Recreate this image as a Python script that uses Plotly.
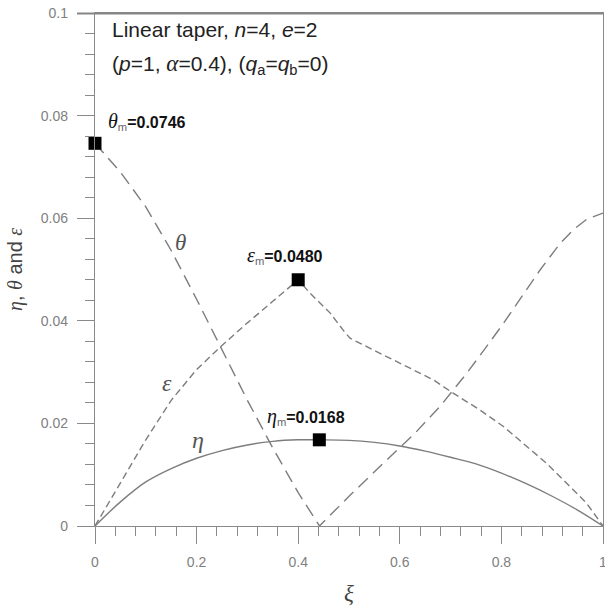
import plotly.graph_objects as go

# ---------------- data ----------------
eta_x = [0, 0.05, 0.1, 0.15, 0.2, 0.25, 0.3, 0.35, 0.4, 0.442, 0.5, 0.55, 0.6, 0.65, 0.7, 0.75, 0.8, 0.85, 0.9, 0.95, 1.0]
eta_y = [0, 0.0047, 0.0086, 0.0112, 0.0132, 0.0147, 0.0158, 0.0165, 0.0168, 0.0168, 0.0167, 0.0163, 0.0156, 0.0146,
         0.0134, 0.0121, 0.0103, 0.0082, 0.0058, 0.0031, 0]

theta_x = [0, 0.05, 0.10, 0.15, 0.20, 0.25, 0.30, 0.35, 0.40, 0.442,
           0.482, 0.500, 0.581, 0.630, 0.679, 0.732, 0.771, 0.804, 0.840, 0.876, 0.915, 0.942, 0.968, 1.0]
theta_y = [0.0746, 0.0690, 0.0622, 0.0537, 0.0442, 0.0342, 0.0245, 0.0152, 0.0065, 0,
           0.0041, 0.0058, 0.0135, 0.0181, 0.0233, 0.0298, 0.0350, 0.0395, 0.0447, 0.0499, 0.0550, 0.0578, 0.0598, 0.0610]

eps_x = [0, 0.05, 0.10, 0.15, 0.20, 0.25, 0.30, 0.35, 0.400, 0.423, 0.463, 0.490, 0.502, 0.548, 0.614,
         0.666, 0.705, 0.758, 0.804, 0.843, 0.889, 0.929, 0.968, 1.0]
eps_y = [0, 0.0085, 0.0168, 0.0245, 0.0305, 0.0352, 0.0396, 0.0438, 0.0480, 0.0454, 0.0415, 0.0380, 0.0366, 0.0343,
         0.0311, 0.0285, 0.0259, 0.0226, 0.0194, 0.0161, 0.0122, 0.0083, 0.0044, 0]

peak_x = [0, 0.4, 0.4416]
peak_y = [0.0746, 0.0480, 0.0168]

x_tickvals = [0, 0.2, 0.4, 0.6, 0.8, 1]
x_ticktext = ["0", "0.2", "0.4", "0.6", "0.8", "1"]
y_tickvals = [0, 0.02, 0.04, 0.06, 0.08, 0.1]
y_ticktext = ["0", "0.02", "0.04", "0.06", "0.08", "0.1"]

# ---------------- layout helpers ----------------
W, H = 605, 606
L, R, T, B = 95, 603, 13, 526    # plot area in window pixels


def px(x):
    return (x - L) / (R - L)


def py(y):
    return (B - y) / (B - T)


GREY = "#7d7d7d"
AXC = "#8a8a8a"
SERIF = "Liberation Serif"
SANS = "Liberation Sans, Arial, sans-serif"

fig = go.Figure()
fig.add_trace(go.Scatter(x=eta_x, y=eta_y, mode="lines",
                         line=dict(color=GREY, width=1.4, shape="spline", smoothing=1.0),
                         hoverinfo="skip", showlegend=False))
fig.add_trace(go.Scatter(x=theta_x, y=theta_y, mode="lines",
                         line=dict(color=GREY, width=1.4, dash="13px,7px"),
                         hoverinfo="skip", showlegend=False))
fig.add_trace(go.Scatter(x=eps_x, y=eps_y, mode="lines",
                         line=dict(color=GREY, width=1.4, dash="7px,4px"),
                         hoverinfo="skip", showlegend=False))
fig.add_trace(go.Scatter(x=peak_x, y=peak_y, mode="markers",
                         marker=dict(symbol="square", size=13, color="black"),
                         cliponaxis=False, hoverinfo="skip", showlegend=False))

axis_common = dict(showgrid=False, zeroline=False, showline=True, mirror=True,
                   linecolor=AXC, linewidth=1.3, ticks="outside", ticklen=17,
                   tickcolor=AXC, tickwidth=1.3, automargin=False,
                   ticklabeloverflow="allow",
                   tickfont=dict(family=SANS, size=14, color="#808080"))

fig.update_xaxes(range=[0, 1], tickmode="array", tickvals=x_tickvals, ticktext=x_ticktext,
                 minor=dict(tickmode="linear", tick0=0, dtick=0.04, ticks="outside", ticklen=9,
                            tickcolor=AXC, tickwidth=1.3),
                 ticklabelstandoff=6, **axis_common)
fig.update_yaxes(range=[0, 0.1], tickmode="array", tickvals=y_tickvals, ticktext=y_ticktext,
                 minor=dict(tickmode="linear", tick0=0, dtick=0.004, ticks="outside", ticklen=9,
                            tickcolor=AXC, tickwidth=1.3),
                 ticklabelstandoff=6, **axis_common)

# explicit top edge of the frame (extends left over the 0.1 major tick like the reference)
fig.add_shape(type="line", xref="paper", yref="paper", x0=px(77), x1=1, y0=py(13.5), y1=py(13.5),
              line=dict(color="#858585", width=1.8), layer="above")


def greek(s, size=None):
    st = f"font-family:{SERIF};font-style:italic"
    if size:
        st += f";font-size:{size}px"
    return f"<span style='{st}'>{s}</span>"


ann = []
ann.append(dict(x=px(110), y=py(29), text="Linear taper, <i>n</i>=4, <i>e</i>=2",
                font=dict(family=SANS, size=21, color="#222"), xanchor="left", yanchor="middle"))
ann.append(dict(x=px(110), y=py(64),
                text="(<i>p</i>=1, " + greek("α", 23) + "=0.4), (<i>q</i><sub>a</sub>=<i>q</i><sub>b</sub>=0)",
                font=dict(family=SANS, size=21, color="#222"), xanchor="left", yanchor="middle"))
ann.append(dict(x=px(106), y=py(121),
                text=greek("θ", 20) + "<span style='color:#666'><sub>m</sub></span><b>=0.0746</b>",
                font=dict(family=SANS, size=16, color="#111"), xanchor="left", yanchor="middle"))
ann.append(dict(x=px(245), y=py(255),
                text=greek("ε", 20) + "<span style='color:#666'><sub>m</sub></span><b>=0.0480</b>",
                font=dict(family=SANS, size=16, color="#111"), xanchor="left", yanchor="middle"))
ann.append(dict(x=px(265), y=py(416),
                text=greek("η", 20) + "<span style='color:#666'><sub>m</sub></span><b>=0.0168</b>",
                font=dict(family=SANS, size=16, color="#111"), xanchor="left", yanchor="middle"))
ann.append(dict(x=px(180), y=py(242), text=greek("θ"),
                font=dict(family=SERIF, size=23, color="#555"), xanchor="center", yanchor="middle"))
ann.append(dict(x=px(167), y=py(383), text=greek("ε"),
                font=dict(family=SERIF, size=24, color="#555"), xanchor="center", yanchor="middle"))
ann.append(dict(x=px(198), y=py(440), text=greek("η"),
                font=dict(family=SERIF, size=24, color="#555"), xanchor="center", yanchor="middle"))
ann.append(dict(x=px(349), y=py(593), text=greek("ξ"),
                font=dict(family=SERIF, size=23, color="#444"), xanchor="center", yanchor="middle"))
ann.append(dict(x=px(15), y=py(270), textangle=-90,
                text=greek("η") + ", " + greek("θ") + " and " + greek("ε"),
                font=dict(family=SANS, size=20, color="#444"), xanchor="center", yanchor="middle"))
for a in ann:
    a.update(xref="paper", yref="paper", showarrow=False)
fig.update_layout(annotations=ann)

fig.update_layout(width=W, height=H,
                  margin=dict(l=L, r=W - R, t=T, b=H - B, pad=0),
                  paper_bgcolor="white", plot_bgcolor="white")

# let the figure fill the window exactly (no page margin, no scrollbars)
page_css = ("document.documentElement.style.overflow='hidden';"
            "document.body.style.margin='0';"
            "document.body.style.overflow='hidden';")
fig.write_html("out.html", post_script=page_css, config={"displayModeBar": False})
